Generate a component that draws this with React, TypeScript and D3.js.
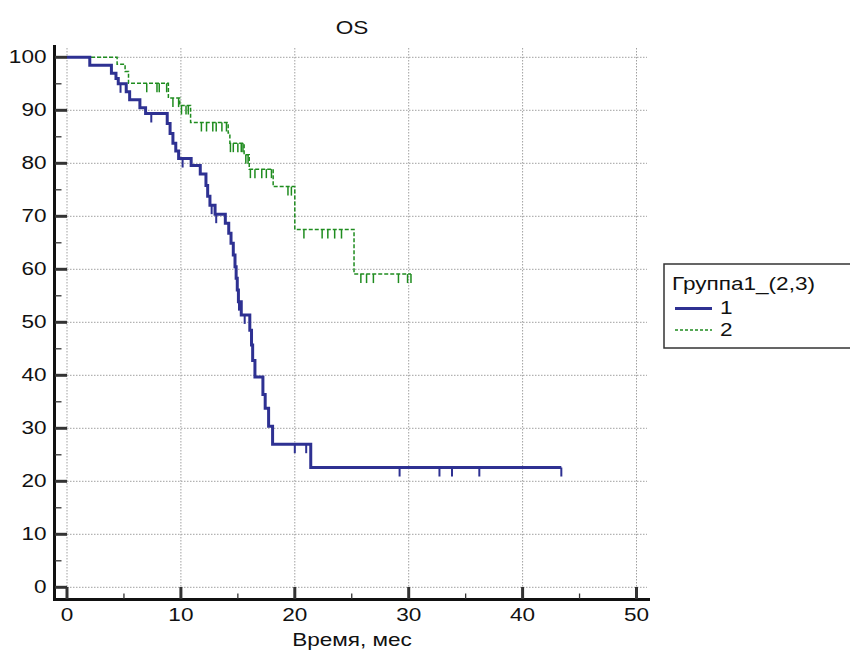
import React from "react";
import * as d3 from "d3";

const title = "OS";
const xTitle = "Время, мес";
const legendTitle = "Группа1_(2,3)";
const seriesNames = ["1", "2"];
const xTicks = [0, 10, 20, 30, 40, 50];
const yTicks = [0, 10, 20, 30, 40, 50, 60, 70, 80, 90, 100];

const blueTimes = [0, 2.0, 3.9, 4.3, 4.5, 5.2, 5.5, 6.4, 6.9, 8.8, 9.05, 9.3, 9.55, 9.8, 10.9, 11.7, 12.2, 12.35, 12.55, 13.0, 13.9, 14.2, 14.4, 14.6, 14.75, 14.85, 14.95, 15.05, 15.3, 16.05, 16.2, 16.3, 16.5, 17.2, 17.4, 17.7, 18.05, 21.4];
const blueSurv = [100, 98.5, 97.0, 96.0, 95.0, 93.5, 92.0, 90.5, 89.4, 87.5, 85.6, 83.8, 82.3, 80.9, 79.6, 78.0, 75.8, 73.8, 72.1, 70.4, 68.7, 66.8, 64.9, 62.7, 60.5, 58.3, 56.1, 53.9, 51.4, 48.5, 45.7, 42.8, 39.7, 36.4, 33.8, 30.4, 27.0, 22.6];
const blueEnd = 43.4;
const blueCensor = [4.7, 7.4, 10.15, 12.7, 13.1, 15.1, 15.6, 20.0, 21.0, 29.2, 32.7, 33.8, 36.2, 43.4];

const greenTimes = [0, 4.4, 5.1, 5.4, 8.9, 9.9, 10.85, 14.15, 14.3, 15.55, 16.0, 18.1, 20.0, 25.2];
const greenSurv = [100, 98.7, 97.3, 95.1, 92.3, 90.9, 87.7, 85.7, 83.8, 81.6, 78.9, 75.6, 67.5, 59.1];
const greenEnd = 30.2;
const greenCensor = [7.0, 7.9, 8.1, 8.75, 9.3, 9.8, 10.05, 10.45, 10.65, 11.8, 12.25, 12.8, 13.1, 13.6, 14.0, 14.35, 14.6, 15.0, 15.3, 15.45, 15.7, 15.9, 16.1, 16.5, 17.1, 17.5, 17.95, 19.4, 19.7, 20.8, 22.4, 22.9, 23.5, 24.1, 25.8, 26.3, 26.9, 29.1, 29.9, 30.2];

const BLUE = "#2e3192";
const GREEN = "#1f8c1f";
const FONT = "'Liberation Sans', Arial, sans-serif";

const x = d3.scaleLinear().domain([0, 50]).range([67, 636.5]);
const y = d3.scaleLinear().domain([0, 100]).range([587.3, 57.3]);

function stepPath(times: number[], surv: number[], end: number) {
  const pts: [number, number][] = times.map((t, i) => [t, surv[i]]);
  pts.push([end, surv[surv.length - 1]]);
  return d3
    .line<[number, number]>()
    .x((d) => x(d[0]))
    .y((d) => y(d[1]))
    .curve(d3.curveStepAfter)(pts) as string;
}

function survAt(times: number[], surv: number[], t: number) {
  const i = d3.bisectRight(times, t) - 1;
  return surv[Math.max(0, i)];
}

function T({ x: tx, y: ty, anchor = "start", children }: { x: number; y: number; anchor?: string; children: React.ReactNode }) {
  return (
    <g transform={`translate(${tx},${ty}) scale(1.22,1)`}>
      <text x={0} y={0} textAnchor={anchor} fontSize={18.5} fill="#111">{children}</text>
    </g>
  );
}

export default function App() {
  const minorX = d3.range(5, 50, 10);
  const minorY = d3.range(5, 100, 10);
  return (
    <svg width={850} height={655} style={{ position: "absolute", left: 0, top: 0, background: "#fff" }} fontFamily={FONT}>
      <rect x={0} y={0} width={850} height={655} fill="#fff" />
      {/* grid */}
      {yTicks.map((v) => (
        <line key={"gy" + v} x1={55} x2={647} y1={y(v)} y2={y(v)} stroke="#a0a0a0" strokeWidth={1} strokeDasharray="1.5,1.5" />
      ))}
      {xTicks.map((v) => (
        <line key={"gx" + v} x1={x(v)} x2={x(v)} y1={48} y2={598} stroke="#a0a0a0" strokeWidth={1} strokeDasharray="1.5,1.5" />
      ))}
      {/* axes */}
      <line x1={54.5} x2={54.5} y1={45} y2={601} stroke="#111" strokeWidth={3} />
      <line x1={53} x2={650} y1={599.5} y2={599.5} stroke="#111" strokeWidth={3} />
      {yTicks.map((v) => (
        <g key={"ty" + v}>
          <line x1={55} x2={67} y1={y(v)} y2={y(v)} stroke="#333" strokeWidth={3} />
          <T x={46.5} y={y(v) + 6} anchor="end">{v}</T>
        </g>
      ))}
      {minorY.map((v) => (
        <line key={"my" + v} x1={55} x2={61.5} y1={y(v)} y2={y(v)} stroke="#333" strokeWidth={1.3} />
      ))}
      {xTicks.map((v) => (
        <g key={"tx" + v}>
          <line x1={x(v)} x2={x(v)} y1={587} y2={599} stroke="#333" strokeWidth={3} />
          <T x={x(v)} y={621} anchor="middle">{v}</T>
        </g>
      ))}
      {minorX.map((v) => (
        <line key={"mx" + v} x1={x(v)} x2={x(v)} y1={593.5} y2={599} stroke="#333" strokeWidth={1.3} />
      ))}
      {/* curves */}
      <path d={stepPath(greenTimes, greenSurv, greenEnd)} fill="none" stroke={GREEN} strokeWidth={1.5} strokeDasharray="4,2" />
      {greenCensor.map((t, i) => {
        const s = survAt(greenTimes, greenSurv, t);
        return <line key={"gc" + i} x1={x(t)} x2={x(t)} y1={y(s)} y2={y(s) + 9} stroke={GREEN} strokeWidth={1.5} />;
      })}
      <path d={stepPath(blueTimes, blueSurv, blueEnd)} fill="none" stroke={BLUE} strokeWidth={3} />
      {blueCensor.map((t, i) => {
        const s = survAt(blueTimes, blueSurv, t);
        return <line key={"bc" + i} x1={x(t)} x2={x(t)} y1={y(s)} y2={y(s) + 9} stroke={BLUE} strokeWidth={2} />;
      })}
      {/* titles */}
      <T x={352} y={34} anchor="middle">{title}</T>
      <T x={352} y={646} anchor="middle">{xTitle}</T>
      {/* legend */}
      <rect x={664} y={264} width={190} height={84} fill="#fff" stroke="#333" strokeWidth={1.5} />
      <T x={672} y={290}>{legendTitle}</T>
      <line x1={675} x2={712} y1={308.5} y2={308.5} stroke={BLUE} strokeWidth={3} />
      <T x={720} y={314}>{seriesNames[0]}</T>
      <line x1={675} x2={712} y1={330} y2={330} stroke={GREEN} strokeWidth={1.5} strokeDasharray="3,2" />
      <T x={720} y={336}>{seriesNames[1]}</T>
    </svg>
  );
}
